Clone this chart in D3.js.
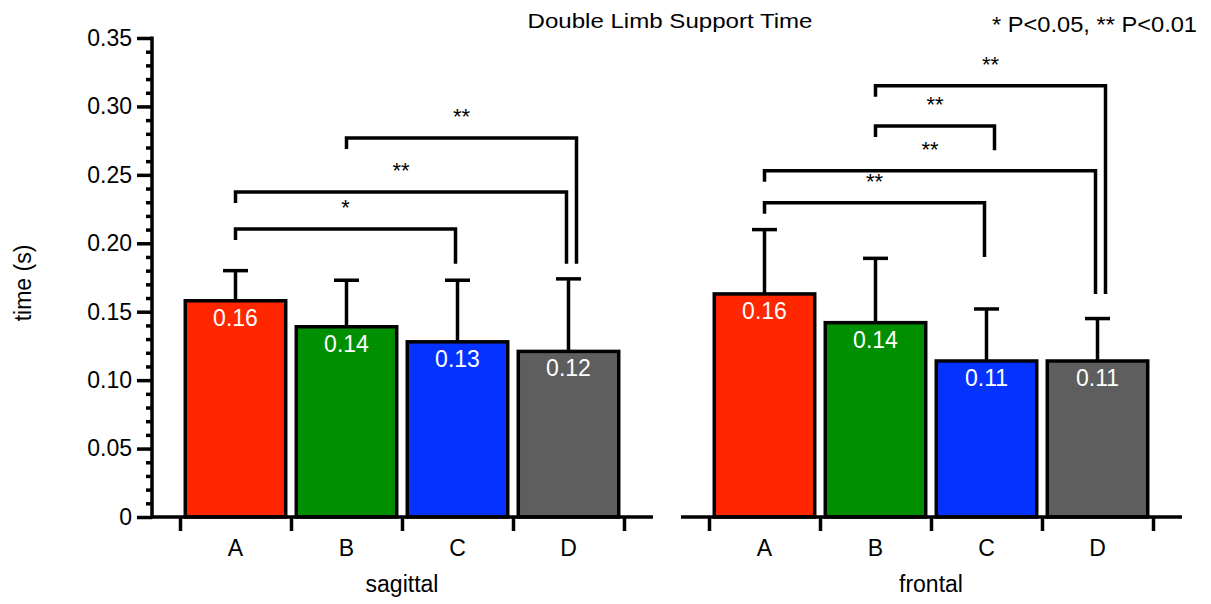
<!DOCTYPE html>
<html>
<head>
<meta charset="utf-8">
<script src="https://cdnjs.cloudflare.com/ajax/libs/d3/7.8.5/d3.min.js"></script>
<style>
  body { margin: 0; background: #fff; }
  svg { display: block; }
  text { font-family: "Liberation Sans", Arial, Helvetica, sans-serif; fill: #000; }
</style>
</head>
<body>
<div id="chart"></div>
<script>
// Data
const groups = ['A', 'B', 'C', 'D']
const groupColors = ['#ff2600', '#008f00', '#0433ff', '#5e5e5e']

const sagittalMean = [0.158, 0.139, 0.128, 0.121]
const sagittalErr = [0.022, 0.034, 0.045, 0.053]
const frontalMean = [0.163, 0.142, 0.114, 0.114]
const frontalErr = [0.047, 0.047, 0.038, 0.031]

// significance brackets: level = height of bar, end = where the right leg stops
const sagittalSig = [
  { from: 'A', to: 'C', level: 0.2105, end: 0.185, label: '*' },
  { from: 'A', to: 'D', level: 0.2375, end: 0.185, label: '**' },
  { from: 'B', to: 'D', level: 0.277, end: 0.185, label: '**' }
]
const frontalSig = [
  { from: 'A', to: 'C', level: 0.2297, end: 0.19, label: '**' },
  { from: 'A', to: 'D', level: 0.253, end: 0.163, label: '**' },
  { from: 'B', to: 'C', level: 0.2857, end: 0.268, label: '**' },
  { from: 'B', to: 'D', level: 0.3152, end: 0.163, label: '**' }
]

const yTicks = [0, 0.05, 0.10, 0.15, 0.20, 0.25, 0.30, 0.35]
const panelNames = ['sagittal', 'frontal']

// Initialize
var width = 1211
var height = 604
var lw = 3.5

const svg = d3.select('#chart').append('svg')
  .attr('width', width)
  .attr('height', height)

const y = d3.scaleLinear()
  .domain([0, 0.35])
  .range([517, 38])

// Y axis with minor ticks
const minor = d3.range(0, 36).map(d => d / 100).filter(d => Math.round(d * 100) % 5 !== 0)

svg.append('g')
  .attr('transform', 'translate(152,0)')
  .call(d3.axisLeft(y).tickValues(minor).tickSize(6).tickFormat(''))
  .call(g => g.select('.domain').remove())
  .call(g => g.selectAll('line').attr('stroke-width', lw))

svg.append('g')
  .attr('transform', 'translate(152,0)')
  .call(d3.axisLeft(y).tickValues(yTicks).tickSize(15).tickPadding(5)
    .tickFormat(d => d === 0 ? '0' : d3.format('.2f')(d)))
  .call(g => g.select('.domain').remove())
  .call(g => g.selectAll('line').attr('stroke-width', lw))
  .call(g => g.selectAll('text').attr('font-size', 23).style('font-family', '"Liberation Sans", Arial, sans-serif'))

svg.append('line')
  .attr('x1', 152).attr('x2', 152)
  .attr('y1', y(0.35) - 1.5).attr('y2', y(0) + 1.5)
  .attr('stroke', '#000').attr('stroke-width', lw)

// Y axis title
svg.append('text')
  .attr('transform', `translate(31,${283})rotate(-90)`)
  .attr('text-anchor', 'middle')
  .attr('font-size', 23)
  .text('time (s)')

// Panels
const panelLeft = [152, 681]
const panels = [
  { name: panelNames[0], mean: sagittalMean, err: sagittalErr, sig: sagittalSig },
  { name: panelNames[1], mean: frontalMean, err: frontalErr, sig: frontalSig }
]

panels.forEach((p, pi) => {
  const g = svg.append('g').attr('transform', `translate(${panelLeft[pi]},0)`)

  const x = d3.scaleBand()
    .domain(groups)
    .range([28, 472])
    .padding(0)

  const bounds = d3.scaleLinear().domain([0, groups.length]).range([28, 472])

  const rows = groups.map((k, i) => ({ key: k, mean: p.mean[i], err: p.err[i], color: groupColors[i] }))

  // error bars (upper only)
  g.selectAll('.err')
    .data(rows)
    .enter()
    .append('line')
    .attr('x1', d => x(d.key) + x.bandwidth() / 2)
    .attr('x2', d => x(d.key) + x.bandwidth() / 2)
    .attr('y1', d => y(d.mean))
    .attr('y2', d => y(d.mean + d.err))
    .attr('stroke', '#000').attr('stroke-width', lw)

  g.selectAll('.cap')
    .data(rows)
    .enter()
    .append('line')
    .attr('x1', d => x(d.key) + x.bandwidth() / 2 - 12.5)
    .attr('x2', d => x(d.key) + x.bandwidth() / 2 + 12.5)
    .attr('y1', d => y(d.mean + d.err))
    .attr('y2', d => y(d.mean + d.err))
    .attr('stroke', '#000').attr('stroke-width', lw)

  // bars
  const bw = x.bandwidth() * 0.905
  g.selectAll('rect')
    .data(rows)
    .enter()
    .append('rect')
    .attr('x', d => x(d.key) + (x.bandwidth() - bw) / 2)
    .attr('width', bw)
    .attr('y', d => y(d.mean))
    .attr('height', d => y(0) - y(d.mean))
    .attr('fill', d => d.color)
    .attr('stroke', '#000')
    .attr('stroke-width', lw)

  // value labels
  g.selectAll('.val')
    .data(rows)
    .enter()
    .append('text')
    .attr('x', d => x(d.key) + x.bandwidth() / 2)
    .attr('y', d => y(d.mean) + 25)
    .attr('text-anchor', 'middle')
    .attr('font-size', 23)
    .style('fill', '#fff')
    .text(d => d3.format('.2f')(d.mean))

  // X axis line and boundary ticks
  g.append('line')
    .attr('x1', 0).attr('x2', 501)
    .attr('y1', y(0)).attr('y2', y(0))
    .attr('stroke', '#000').attr('stroke-width', lw)

  g.append('g')
    .attr('transform', `translate(0,${y(0)})`)
    .call(d3.axisBottom(bounds).tickValues(d3.range(0, groups.length + 1)).tickSize(14).tickFormat(''))
    .call(a => a.select('.domain').remove())
    .call(a => a.selectAll('line').attr('stroke-width', lw))

  // category labels
  g.selectAll('.cat')
    .data(groups)
    .enter()
    .append('text')
    .attr('x', d => x(d) + x.bandwidth() / 2)
    .attr('y', 556)
    .attr('text-anchor', 'middle')
    .attr('font-size', 23)
    .text(d => d)

  // panel title
  g.append('text')
    .attr('x', 250)
    .attr('y', 592)
    .attr('text-anchor', 'middle')
    .attr('font-size', 23)
    .text(p.name)

  // significance brackets
  const seen = {}
  p.sig.forEach(s => {
    const k = seen[s.to] || 0
    seen[s.to] = k + 1
    const x1 = x(s.from) + x.bandwidth() / 2
    const x2 = x(s.to) + x.bandwidth() / 2 - 2 + 10 * k
    const ly = y(s.level)
    g.append('path')
      .attr('d', `M${x1},${ly + 11}V${ly}H${x2}V${y(s.end)}`)
      .attr('fill', 'none')
      .attr('stroke', '#000')
      .attr('stroke-width', lw)
    g.append('text')
      .attr('x', (x1 + x2) / 2)
      .attr('y', ly - 14)
      .attr('text-anchor', 'middle')
      .attr('font-size', 22)
      .text(s.label)
  })
})

// Chart title
svg.append('text')
  .attr('x', 670)
  .attr('y', 28)
  .attr('text-anchor', 'middle')
  .attr('font-size', 20.5)
  .attr('textLength', 285)
  .attr('lengthAdjust', 'spacingAndGlyphs')
  .text('Double Limb Support Time')

// Significance key
svg.append('text')
  .attr('x', 1197)
  .attr('y', 32)
  .attr('text-anchor', 'end')
  .attr('font-size', 21.5)
  .attr('textLength', 205)
  .attr('lengthAdjust', 'spacingAndGlyphs')
  .text('* P<0.05, ** P<0.01')
</script>
</body>
</html>
